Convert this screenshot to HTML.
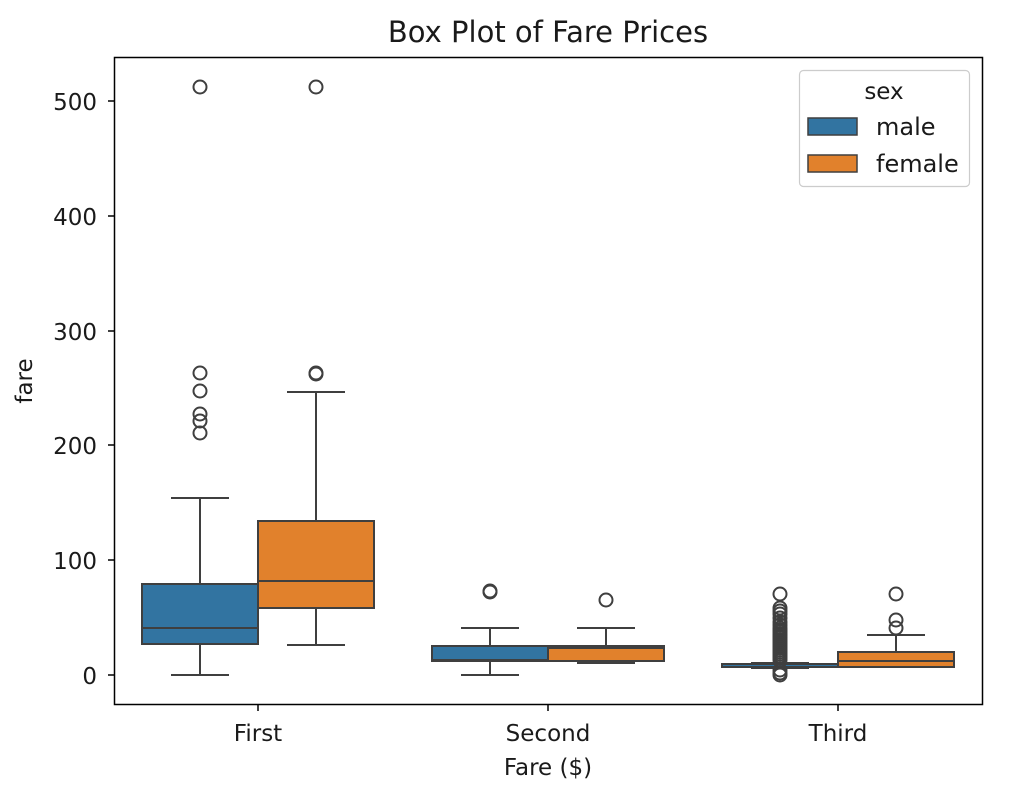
<!DOCTYPE html>
<html><head><meta charset="utf-8"><style>
html,body{margin:0;padding:0;background:#fff;}
svg{display:block;font-family:"DejaVu Sans","Liberation Sans",sans-serif;}
</style></head><body>
<svg width="1025" height="792" viewBox="0 0 1025 792" xmlns="http://www.w3.org/2000/svg">
<rect width="1025" height="792" fill="#fff"/>
<text x="548" y="42" font-size="29" text-anchor="middle" fill="#1a1a1a">Box Plot of Fare Prices</text>
<g stroke="#3f3f3f" stroke-width="2" fill="none">
<line x1="200" y1="498" x2="200" y2="584"/><line x1="200" y1="644" x2="200" y2="675"/>
<line x1="171" y1="498" x2="229" y2="498"/><line x1="171" y1="675" x2="229" y2="675"/>
<rect x="142" y="584" width="116" height="60" fill="#3274a1"/>
<line x1="142" y1="628" x2="258" y2="628"/>
<line x1="316" y1="392" x2="316" y2="521"/><line x1="316" y1="608" x2="316" y2="645"/>
<line x1="287" y1="392" x2="345" y2="392"/><line x1="287" y1="645" x2="345" y2="645"/>
<rect x="258" y="521" width="116" height="87" fill="#e1812c"/>
<line x1="258" y1="581" x2="374" y2="581"/>
<line x1="490" y1="628" x2="490" y2="646"/><line x1="490" y1="661" x2="490" y2="675"/>
<line x1="461" y1="628" x2="519" y2="628"/><line x1="461" y1="675" x2="519" y2="675"/>
<rect x="432" y="646" width="116" height="15" fill="#3274a1"/>
<line x1="432" y1="660" x2="548" y2="660"/>
<line x1="606" y1="628" x2="606" y2="646"/>
<line x1="577" y1="628" x2="635" y2="628"/><line x1="577" y1="663" x2="635" y2="663"/>
<rect x="548" y="646" width="116" height="15" fill="#e1812c"/>
<line x1="548" y1="648" x2="664" y2="648"/>
<line x1="751" y1="663" x2="809" y2="663"/><line x1="751" y1="668" x2="809" y2="668"/>
<rect x="722" y="664" width="116" height="3" fill="#3274a1"/>
<line x1="896" y1="635" x2="896" y2="652"/>
<line x1="867" y1="635" x2="925" y2="635"/>
<rect x="838" y="652" width="116" height="15" fill="#e1812c"/>
<line x1="838" y1="661" x2="954" y2="661"/>
</g>
<g stroke="#3f3f3f" stroke-width="2" fill="none">
<circle cx="200" cy="87" r="6.5"/><circle cx="316" cy="87" r="6.5"/>
<circle cx="200" cy="373" r="6.5"/><circle cx="200" cy="391" r="6.5"/><circle cx="200" cy="414" r="6.5"/><circle cx="200" cy="421" r="6.5"/><circle cx="200" cy="433" r="6.5"/>
<circle cx="316" cy="373" r="6.5"/><circle cx="316" cy="374" r="6.5"/>
<circle cx="490" cy="591" r="6.5"/><circle cx="490" cy="592" r="6.5"/>
<circle cx="606" cy="600" r="6.5"/>
<circle cx="896" cy="594" r="6.5"/><circle cx="896" cy="620" r="6.5"/><circle cx="896" cy="628" r="6.5"/>
<circle cx="780" cy="594" r="6.5"/><circle cx="780" cy="608" r="6.5"/><circle cx="780" cy="611" r="6.5"/><circle cx="780" cy="614" r="6.5"/><circle cx="780" cy="618" r="6.5"/><circle cx="780" cy="622" r="6.5"/><circle cx="780" cy="625" r="6.5"/><circle cx="780" cy="628" r="6.5"/><circle cx="780" cy="630" r="6.5"/><circle cx="780" cy="632" r="6.5"/><circle cx="780" cy="634" r="6.5"/><circle cx="780" cy="636" r="6.5"/><circle cx="780" cy="638" r="6.5"/><circle cx="780" cy="640" r="6.5"/><circle cx="780" cy="642" r="6.5"/><circle cx="780" cy="644" r="6.5"/><circle cx="780" cy="646" r="6.5"/><circle cx="780" cy="648" r="6.5"/><circle cx="780" cy="650" r="6.5"/><circle cx="780" cy="652" r="6.5"/><circle cx="780" cy="654" r="6.5"/><circle cx="780" cy="656" r="6.5"/><circle cx="780" cy="658" r="6.5"/><circle cx="780" cy="660" r="6.5"/><circle cx="780" cy="670" r="6.5"/><circle cx="780" cy="673" r="6.5"/><circle cx="780" cy="675" r="6.5"/>
</g>
<rect x="114.5" y="57.5" width="868" height="647" fill="none" stroke="#000" stroke-width="1.5"/>
<g stroke="#000" stroke-width="1.5">
<line x1="108" y1="675" x2="114" y2="675"/><line x1="108" y1="560" x2="114" y2="560"/><line x1="108" y1="445" x2="114" y2="445"/><line x1="108" y1="331" x2="114" y2="331"/><line x1="108" y1="216" x2="114" y2="216"/><line x1="108" y1="101" x2="114" y2="101"/>
<line x1="258" y1="705" x2="258" y2="711"/><line x1="548" y1="705" x2="548" y2="711"/><line x1="838" y1="705" x2="838" y2="711"/>
</g>
<g font-size="23" fill="#1a1a1a" text-anchor="end">
<text x="97" y="684">0</text><text x="97" y="569">100</text><text x="97" y="454">200</text><text x="97" y="340">300</text><text x="97" y="225">400</text><text x="97" y="110">500</text>
</g>
<g font-size="23" fill="#1a1a1a" text-anchor="middle">
<text x="258" y="741">First</text><text x="548" y="741">Second</text><text x="838" y="741">Third</text>
<text x="548" y="775">Fare ($)</text>
<text transform="translate(32,381) rotate(-90)">fare</text>
</g>
<rect x="799.5" y="70.5" width="170" height="116" rx="4" fill="#fff" stroke="#ccc" stroke-width="1.2"/>
<text x="884" y="99" font-size="23" fill="#1a1a1a" text-anchor="middle">sex</text>
<rect x="808" y="118" width="49" height="17" fill="#3274a1" stroke="#3f3f3f" stroke-width="1.5"/>
<rect x="808" y="155" width="49" height="17" fill="#e1812c" stroke="#3f3f3f" stroke-width="1.5"/>
<text x="876" y="135" font-size="24" fill="#1a1a1a">male</text>
<text x="876" y="172" font-size="24" fill="#1a1a1a">female</text>
</svg>
</body></html>
